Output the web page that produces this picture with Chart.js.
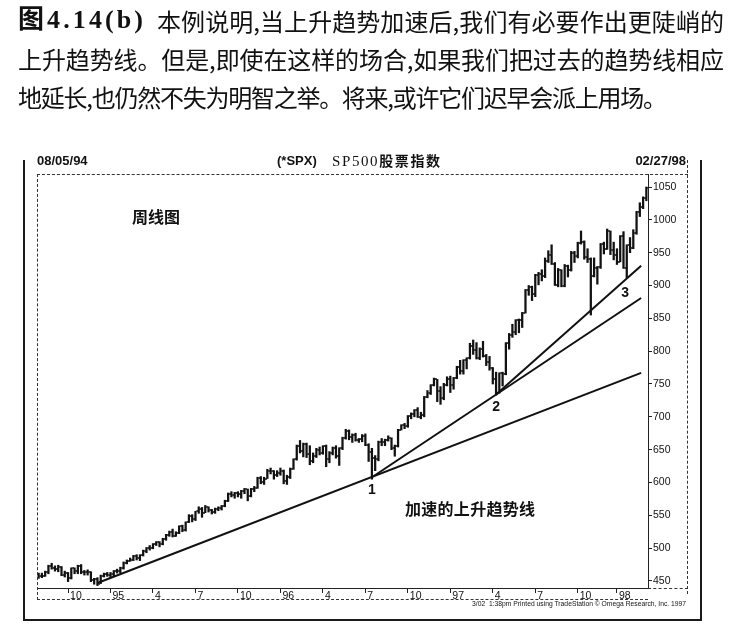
<!DOCTYPE html>
<html lang="zh">
<head>
<meta charset="UTF-8">
<title>图4.14(b) SP500股票指数 周线图</title>
<script src="https://cdn.jsdelivr.net/npm/chart.js"></script>
<style>
  body { margin: 0; background: #fff; }
  #page { position: relative; width: 741px; height: 641px; overflow: hidden; color: #111;
          font-family: "Noto Sans CJK SC", sans-serif; }
  #page canvas { position: absolute; left: 0; top: 0; }
  .txt { position: absolute; white-space: nowrap; }
  .cap { font-size: 24px; line-height: 30px; }
  .rule { position: absolute; background: #1a1a1a; }
  .dh { position: absolute; height: 0; border-top: 1px dashed #333; }
  .dv { position: absolute; width: 0; border-left: 1px dashed #333; }
  .hdr { font-family: "Liberation Sans", Arial, sans-serif; font-weight: bold; font-size: 13px; line-height: 16px; }
</style>
</head>
<body>
<div id="page">
  <canvas id="myChart" width="741" height="641"></canvas>

  <!-- caption -->
  <span class="txt cap" id="cap0" style="left:18px; top:5px; font-family:'Liberation Serif','Noto Sans CJK SC',serif; font-weight:bold; font-size:26px;">图4.14(b)</span>
  <span class="txt cap" id="cap1" style="left:157px; top:6px;">本例说明,当上升趋势加速后,我们有必要作出更陡峭的</span>
  <span class="txt cap" id="cap2" style="left:18px; top:44px;">上升趋势线。但是,即使在这样的场合,如果我们把过去的趋势线相应</span>
  <span class="txt cap" id="cap3" style="left:18px; top:82px;">地延长,也仍然不失为明智之举。将来,或许它们迟早会派上用场。</span>

  <!-- outer frame -->
  <div class="rule" style="left:23px; top:160px; width:2px; height:461px;"></div>
  <div class="rule" style="left:700px; top:160px; width:2px; height:461px;"></div>
  <div class="rule" style="left:23px; top:619px; width:679px; height:2px;"></div>

  <!-- inner frame -->
  <div class="dh" style="left:37px; top:174px; width:651px;"></div>
  <div class="dv" style="left:37px; top:174px; height:426px;"></div>
  <div class="dv" style="left:687px; top:160px; height:434px;"></div>
  <div class="dh" style="left:648px; top:588px; width:40px;"></div>
  <div class="dh" style="left:37px; top:599px; width:611px;"></div>

  <!-- header row -->
  <span class="txt hdr" style="left:37px; top:153px;">08/05/94</span>
  <span class="txt hdr" style="left:277px; top:153px;">(*SPX)</span>
  <span class="txt" id="hdrTitle" style="left:332px; top:152px; font-size:14px; line-height:17px;"><span style="font-family:'Liberation Serif',serif; font-size:15px;">SP500</span><span style="font-weight:bold;">股票指数</span></span>
  <span class="txt hdr" style="right:55px; top:153px;">02/27/98</span>

  <!-- annotations -->
  <span class="txt" id="noteWeekly" style="left:132px; top:206px; font-size:16px; line-height:20px; font-weight:bold;">周线图</span>
  <span class="txt" id="noteAccel" style="left:405px; top:498px; font-size:16px; line-height:20px; font-weight:bold;">加速的上升趋势线</span>

  <!-- print footer -->
  <span class="txt" id="footer" style="right:55px; top:600px; font-family:'Liberation Sans',Arial,sans-serif; font-size:6.5px; line-height:8px; transform-origin:right center;">3/02&nbsp; 1:38pm Printed using TradeStation © Omega Research, Inc. 1997</span>
</div>

<script>
// weekly bars, index 0 = week ending 1994-08-05, last = week ending 1998-02-27
const highs = [
  462, 462, 465, 474, 477, 473, 474, 472, 465, 463, 470, 470, 474, 475, 466, 467, 464, 454, 455, 459, 462, 463,
  463, 466, 468, 471, 479, 482, 485, 489, 490, 490, 497, 501, 504, 507, 510, 510, 515, 521, 526, 529, 525, 534,
  535, 540, 551, 551, 556, 563, 562, 565, 563, 559, 561, 563, 565, 573, 584, 586, 585, 586, 588, 591, 590, 591,
  594, 608, 609, 608, 620, 622, 618, 618,
  622, 619, 611, 622, 636, 657, 664, 660, 660, 656, 645, 652, 654, 656, 657, 647, 654, 656, 653, 669, 681, 680,
  674, 675, 667, 673, 674, 659, 652, 641, 663, 667, 666, 671, 668, 657, 681, 688, 690, 702, 706, 711, 714, 707,
  731, 740, 749, 759, 757, 746, 751, 761,
  762, 760, 777, 786, 787, 790, 812, 817, 813, 805, 815, 795, 792, 775, 768, 767, 768, 813, 827, 841, 848, 849,
  859, 894, 900, 899, 917, 920, 924, 942, 953, 962, 935, 926, 924, 932, 931, 952, 952, 966, 983, 968, 956, 942,
  942, 929, 964, 966, 986, 983, 966, 956,
  976, 982, 962, 973, 985, 1013, 1026, 1035, 1050
];
const lows = [
  454, 455, 457, 461, 468, 465, 464, 458, 456, 449, 453, 461, 461, 461, 459, 459, 449, 445, 443, 446, 456, 457,
  455, 457, 462, 462, 468, 476, 480, 481, 482, 481, 488, 493, 497, 499, 504, 502, 505, 512, 518, 517, 518, 522,
  525, 526, 539, 540, 542, 553, 547, 554, 555, 552, 553, 557, 558, 563, 571, 578, 576, 578, 576, 583, 572, 578,
  586, 591, 598, 597, 606, 613, 605, 609,
  611, 598, 597, 606, 620, 634, 645, 639, 638, 627, 630, 638, 642, 643, 624, 630, 642, 637, 626, 650, 666, 665,
  661, 663, 661, 662, 656, 632, 605, 618, 633, 656, 656, 663, 650, 640, 654, 680, 682, 684, 697, 700, 699, 697,
  700, 729, 734, 747, 723, 719, 726, 747,
  737, 742, 758, 765, 765, 773, 788, 795, 788, 787, 791, 778, 771, 750, 733, 736, 747, 764, 803, 821, 825, 828,
  836, 858, 885, 877, 883, 901, 907, 912, 935, 932, 900, 898, 898, 898, 913, 922, 935, 942, 963, 940, 935, 855,
  913, 902, 926, 948, 955, 947, 939, 932,
  936, 926, 912, 950, 956, 978, 1005, 1017, 1029
];
const closes = [
  457, 458, 463, 473, 470, 468, 471, 459, 462, 455, 469, 465, 473, 463, 463, 463, 452, 453, 446, 458, 460, 459,
  460, 465, 465, 470, 478, 481, 482, 488, 485, 489, 496, 500, 500, 506, 509, 506, 514, 520, 525, 519, 523, 533,
  527, 540, 549, 545, 556, 560, 554, 563, 558, 555, 560, 561, 564, 572, 583, 581, 584, 582, 587, 590, 579, 590,
  592, 607, 600, 606, 618, 617, 611, 615,
  618, 602, 608, 621, 635, 656, 648, 659, 644, 633, 641, 650, 645, 655, 636, 645, 653, 641, 652, 668, 678, 669,
  673, 665, 666, 671, 657, 646, 638, 635, 662, 662, 665, 667, 652, 655, 680, 687, 686, 701, 705, 710, 700, 703,
  730, 737, 748, 757, 739, 728, 748, 757,
  748, 759, 776, 770, 786, 789, 808, 801, 790, 804, 793, 784, 774, 757, 737, 766, 765, 812, 824, 829, 847, 848,
  858, 893, 898, 887, 916, 918, 915, 938, 947, 933, 900, 923, 899, 929, 923, 950, 945, 965, 967, 944, 941, 915,
  927, 928, 963, 955, 983, 954, 946, 936,
  975, 927, 961, 957, 980, 1012, 1020, 1034, 1049
];

// quarter ticks on the date strip (week index of first bar of the month)
const tickWeeks = [9, 22, 35, 48, 61, 74, 87, 100, 113, 126, 139, 152, 165, 177];
const tickLabels = ['10', '95', '4', '7', '10', '96', '4', '7', '10', '97', '4', '7', '10', '98'];

// price axis
const priceTicks = [450, 500, 550, 600, 650, 700, 750, 800, 850, 900, 950, 1000, 1050];
const priceMin = 439.3;
const priceMax = 1069.8;

// trendlines as [week, price] end points
const trend1 = [[18, 447], [184.4, 767]];
const trend2 = [[102, 608], [184.4, 881]];
const trend3 = [[140, 734], [184.4, 930]];

// numbered pivots 1, 2, 3
const pivotNames = ['1', '2', '3'];
const pivotWeeks = [102, 140, 179.5];
const pivotPrices = [589, 715, 889];

function fitWidth(id, target) {
    const el = document.getElementById(id);
    const n = [...el.textContent].length;
    el.style.letterSpacing = '0px';
    const w = el.getBoundingClientRect().width;
    el.style.letterSpacing = ((target - w) / Math.max(1, n - 1)) + 'px';
}

document.addEventListener('DOMContentLoaded', function () {
    fitWidth('cap0', 125);
    fitWidth('cap1', 567);
    fitWidth('cap2', 706);
    fitWidth('cap3', 649);
    fitWidth('hdrTitle', 108);
    fitWidth('noteAccel', 130);

    const foot = document.getElementById('footer');
    foot.style.transform = 'scaleX(' + (214 / foot.getBoundingClientRect().width) + ')';

    // right-hand close tick of each bar
    const closeMark = document.createElement('canvas');
    closeMark.width = 6;
    closeMark.height = 2;
    const cm = closeMark.getContext('2d');
    cm.fillStyle = '#111';
    cm.fillRect(3.7, 0.2, 2.2, 1.6);

    const pivotPlugin = {
        id: 'pivotNumbers',
        afterDatasetsDraw(chart) {
            const { ctx, scales: { x, y } } = chart;
            ctx.save();
            ctx.font = 'bold 14px "Liberation Sans", Arial, sans-serif';
            ctx.fillStyle = '#111';
            ctx.textAlign = 'center';
            ctx.textBaseline = 'middle';
            pivotNames.forEach((t, k) => {
                ctx.fillText(t, x.getPixelForValue(pivotWeeks[k]), y.getPixelForValue(pivotPrices[k]));
            });
            ctx.restore();
        }
    };

    const toPoints = arr => arr.map(p => ({ x: p[0], y: p[1] }));
    const trendStyle = { type: 'line', borderColor: '#111', borderWidth: 2, pointRadius: 0, fill: false };
    const axisFont = { family: '"Liberation Sans", Arial, sans-serif', size: 10.5 };

    const ctx = document.getElementById('myChart').getContext('2d');
    const myChart = new Chart(ctx, {
        type: 'bar',
        data: {
            datasets: [
                Object.assign({ data: toPoints(trend1) }, trendStyle),
                Object.assign({ data: toPoints(trend2) }, trendStyle),
                Object.assign({ data: toPoints(trend3) }, trendStyle),
                {
                    type: 'line',
                    data: closes.map((c, i) => ({ x: i, y: c })),
                    showLine: false,
                    pointStyle: closeMark,
                    pointRadius: 3,
                    pointHoverRadius: 3
                },
                {
                    type: 'bar',
                    data: lows.map((l, i) => ({ x: i, y: [l, highs[i]] })),
                    backgroundColor: '#111',
                    barThickness: 1.6,
                    borderWidth: 0
                }
            ]
        },
        options: {
            responsive: false,
            animation: false,
            events: [],
            layout: { padding: { left: 37, right: 53, top: 174, bottom: 41 } },
            plugins: { legend: { display: false }, tooltip: { enabled: false } },
            scales: {
                x: {
                    type: 'linear',
                    min: -0.5,
                    max: highs.length - 0.5,
                    offset: false,
                    afterBuildTicks: s => { s.ticks = tickWeeks.map(v => ({ value: v })); },
                    afterFit: s => { s.height = 12; },
                    grid: { drawOnChartArea: false, offset: false, tickLength: 5, color: '#222' },
                    border: { color: '#222' },
                    ticks: {
                        autoSkip: false, maxRotation: 0, minRotation: 0,
                        align: 'start', labelOffset: 2, padding: -3,
                        color: '#111', font: axisFont,
                        callback: (v, i) => tickLabels[i]
                    }
                },
                y: {
                    position: 'right',
                    min: priceMin,
                    max: priceMax,
                    afterBuildTicks: s => { s.ticks = priceTicks.map(v => ({ value: v })); },
                    afterFit: s => { s.width = 40; },
                    grid: { drawOnChartArea: false, tickLength: 4, color: '#222' },
                    border: { color: '#222' },
                    ticks: { padding: 1, color: '#111', font: axisFont, callback: v => String(v) }
                }
            }
        },
        plugins: [pivotPlugin]
    });
});
</script>
</body>
</html>
